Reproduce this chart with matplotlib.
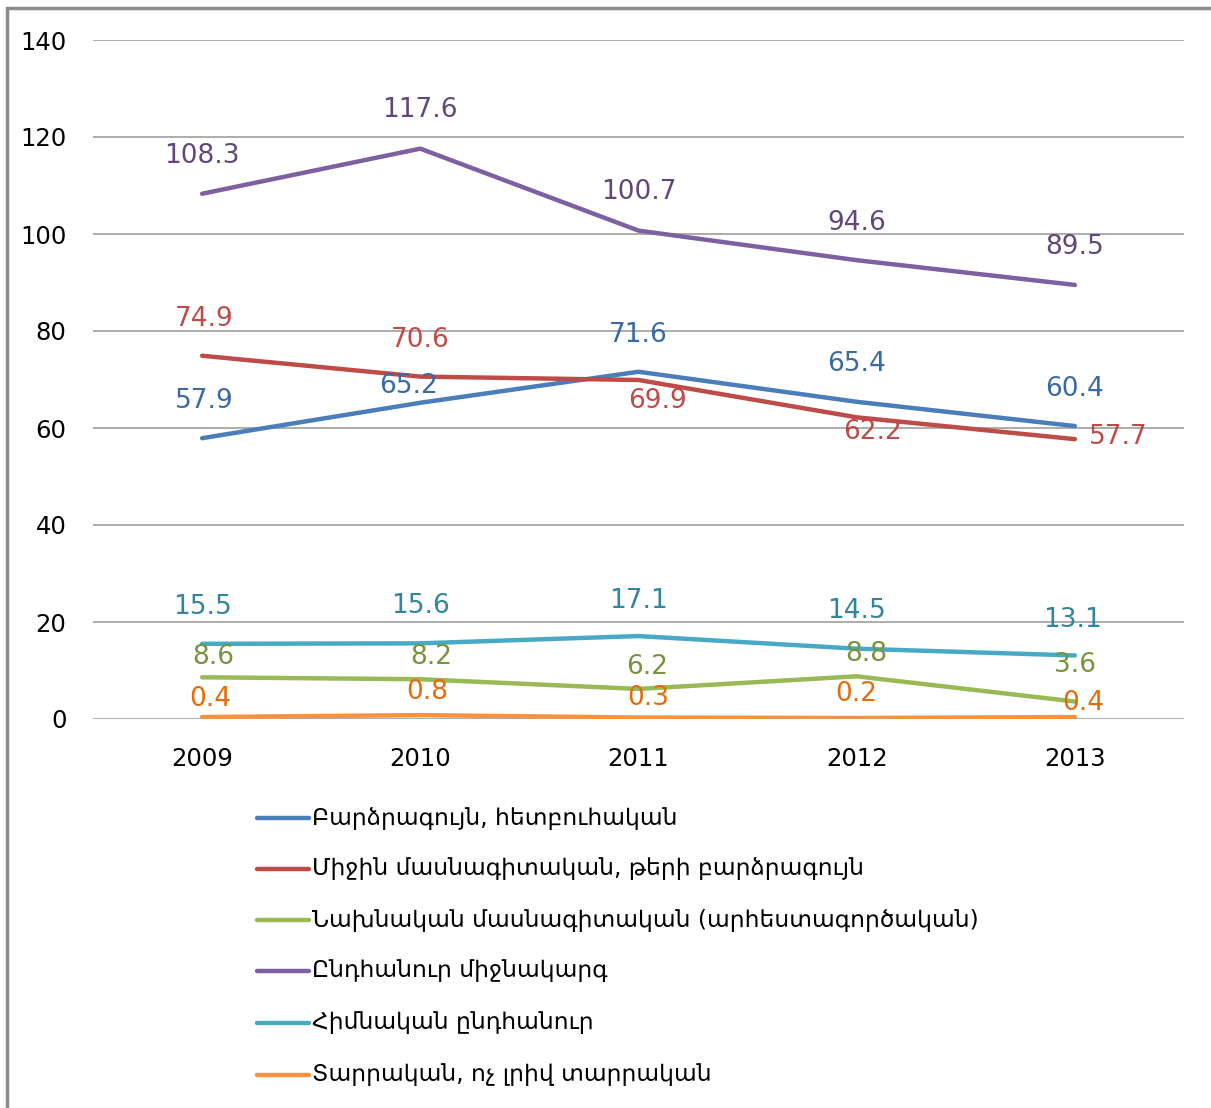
import matplotlib
matplotlib.use('Agg')
import matplotlib.pyplot as plt
from matplotlib.patches import Rectangle

plt.rcParams['font.family'] = ['DejaVu Sans']

years = ['2009', '2010', '2011', '2012', '2013']

series_names = [
    'Բարձրագույն, հետբուհական',
    'Միջին մասնագիտական, թերի բարձրագույն',
    'Նախնական մասնագիտական (արհեստագործական)',
    'Ընդհանուր միջնակարգ',
    'Հիմնական ընդհանուր',
    'Տարրական, ոչ լրիվ տարրական',
]

higher = [57.9, 65.2, 71.6, 65.4, 60.4]
secondary_prof = [74.9, 70.6, 69.9, 62.2, 57.7]
initial_prof = [8.6, 8.2, 6.2, 8.8, 3.6]
general_secondary = [108.3, 117.6, 100.7, 94.6, 89.5]
basic_general = [15.5, 15.6, 17.1, 14.5, 13.1]
primary = [0.4, 0.8, 0.3, 0.2, 0.4]

all_values = [higher, secondary_prof, initial_prof, general_secondary, basic_general, primary]

line_colors = ['#4A7EBB', '#BE4B48', '#98B954', '#7D60A0', '#46AAC5', '#F69240']
label_colors = ['#3A6AA5', '#BE4B48', '#77933C', '#60497A', '#31859C', '#E46C0A']

# label offsets in pixels (dx, dy) relative to each point
offsets = [
    [(2, 37), (-12, 17), (0, 37), (0, 38), (0, 37)],
    [(2, 37), (0, 37), (19, -21), (16, -15), (43, 2)],
    [(11, 20), (11, 22), (9, 22), (10, 22), (0, 37)],
    [(0, 38), (0, 39), (0, 39), (0, 37), (0, 38)],
    [(0, 37), (0, 37), (0, 35), (0, 38), (-2, 35)],
    [(8, 18), (7, 23), (10, 20), (0, 24), (8, 14)],
]

fig = plt.figure(figsize=(12.11, 11.08), dpi=100)
W, H = 1211, 1108

# outer chart frame (partly cut off in the source image)
fig.patches.append(Rectangle((7 / W, -0.05), 1.2, 1 - 8 / H + 0.05, transform=fig.transFigure,
                             fill=False, edgecolor='#8C8C8C', linewidth=2.5))

ax = fig.add_axes([93 / W, 1 - 719 / H, (1184 - 93) / W, (719 - 40) / H])

x = list(range(len(years)))
handles = []
for vals, name, lc, tc, offs in zip(all_values, series_names, line_colors, label_colors, offsets):
    h, = ax.plot(x, vals, color=lc, linewidth=3.2, solid_capstyle='round', label=name, zorder=3)
    handles.append(h)
    for xi, v, (dx, dy) in zip(x, vals, offs):
        ax.annotate(f'{v:.1f}', (xi, v), xytext=(dx * 0.72, dy * 0.72), textcoords='offset points',
                    ha='center', va='center', fontsize=19, color=tc, zorder=4)

ax.set_xlim(-0.5, 4.5)
ax.set_ylim(0, 140)
ax.set_yticks(range(0, 141, 20))
ax.set_xticks(x)
ax.set_xticklabels(years)
ax.tick_params(axis='both', length=0, labelsize=17.5, colors='black')
ax.tick_params(axis='y', pad=19)
ax.tick_params(axis='x', pad=20)
ax.grid(axis='y', color='#A6A6A6', linewidth=1.3)
ax.set_axisbelow(True)
for s in ax.spines.values():
    s.set_visible(False)

# legend: rows stacked below the plot
row_y = [818, 869, 920, 971, 1023, 1075]
for h, name, ry in zip(handles, series_names, row_y):
    yf = 1 - ry / H
    fig.add_artist(plt.Line2D([257 / W, 309 / W], [yf, yf], transform=fig.transFigure,
                              color=h.get_color(), linewidth=3.2, solid_capstyle='round'))
    fig.text(312 / W, yf, name, fontsize=16.8, va='center', ha='left', color='black')

fig.savefig('out.png', dpi=100)
